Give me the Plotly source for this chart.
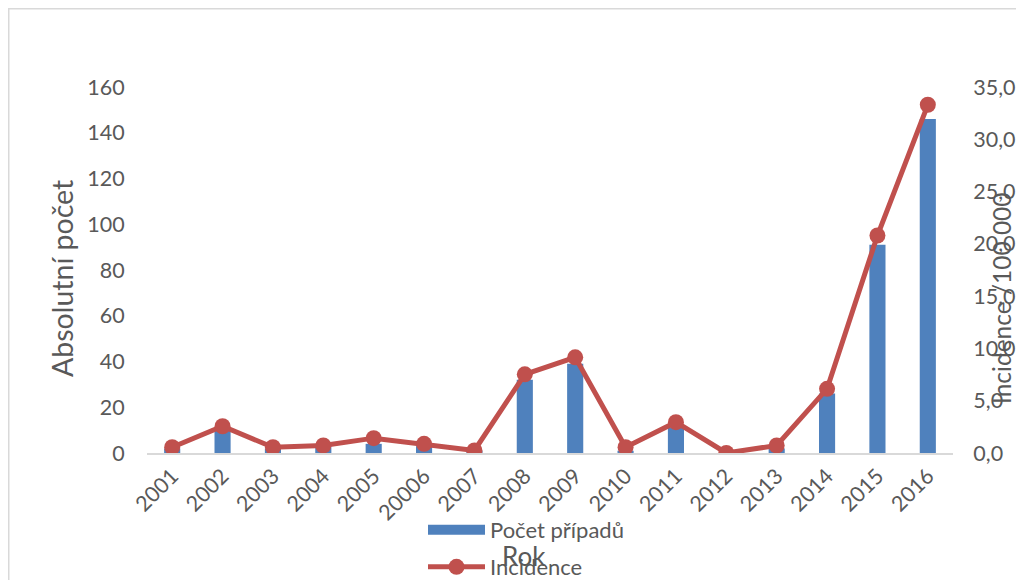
import plotly.graph_objects as go

years = ["2001", "2002", "2003", "2004", "2005", "20006", "2007", "2008",
         "2009", "2010", "2011", "2012", "2013", "2014", "2015", "2016"]
pocet_pripadu = [2, 10, 2, 3, 4, 3, 1, 32, 39, 1, 11, 0, 2, 26, 91, 146]
incidence = [0.55, 2.56, 0.55, 0.72, 1.42, 0.88, 0.24, 7.52, 9.15, 0.55,
             2.95, 0.0, 0.72, 6.14, 20.8, 33.3]
left_ticks = [0, 20, 40, 60, 80, 100, 120, 140, 160]
right_ticks = [0, 5, 10, 15, 20, 25, 30, 35]

FONT = "Lato"
GREY = "#595959"
BLUE = "#4f81bd"
RED = "#c0504d"
OFF = 8  # page body margin
W, H = 1008, 572
L, R, T, B = 139, 63, 79, 127
pw, ph = W - L - R, H - T - B


def px_x(x):
    # screen x -> paper x
    return (x - OFF - L) / pw


def px_y(y):
    # screen y -> paper y
    return (H - B - (y - OFF)) / ph


fig = go.Figure()
fig.add_trace(go.Bar(
    x=years, y=pocet_pripadu, name="Počet případů",
    marker=dict(color=BLUE, line=dict(width=0)),
    yaxis="y", showlegend=False,
))
# legend-only entry giving the wide Excel-style bar swatch
fig.add_trace(go.Scatter(
    x=[None], y=[None], name="Počet případů", mode="lines",
    line=dict(color=BLUE, width=14), legend="legend", hoverinfo="skip",
))
fig.add_trace(go.Scatter(
    x=years, y=incidence, name="Incidence", mode="lines+markers",
    line=dict(color=RED, width=5),
    marker=dict(color=RED, size=16),
    legend="legend2", yaxis="y2",
))

TICKFONT = dict(size=21.5, color=GREY)
fig.update_layout(
    width=W, height=H,
    margin=dict(l=L, r=R, t=T, b=B, autoexpand=False),
    paper_bgcolor="white", plot_bgcolor="white",
    font=dict(family=FONT, size=21, color=GREY),
    separators=", ",
    bargap=0.68,
    showlegend=True,
    xaxis=dict(
        type="category", tickangle=-45, showgrid=False,
        showline=True, linecolor="#d9d9d9", linewidth=2,
        ticks="", tickfont=TICKFONT,
        range=[-0.5, len(years) - 0.5],
    ),
    yaxis=dict(
        range=[0, 160], tickvals=left_ticks, showgrid=False, zeroline=False,
        showline=False, ticks="outside", ticklen=17,
        tickcolor="rgba(0,0,0,0)", tickfont=TICKFONT,
    ),
    yaxis2=dict(
        range=[0, 35], tickvals=right_ticks, tickformat=".1f",
        overlaying="y", side="right", showgrid=False, zeroline=False,
        showline=False, ticks="outside", ticklen=15,
        tickcolor="rgba(0,0,0,0)", tickfont=TICKFONT,
    ),
    legend=dict(
        x=px_x(423), y=px_y(530), xanchor="left", yanchor="middle",
        font=dict(size=22, color=GREY), bgcolor="rgba(0,0,0,0)",
        itemwidth=57,
    ),
    legend2=dict(
        x=px_x(423), y=px_y(567), xanchor="left", yanchor="middle",
        font=dict(size=22, color=GREY), bgcolor="rgba(0,0,0,0)",
        itemwidth=57,
    ),
    annotations=[
        dict(text="Absolutní počet", x=px_x(62), y=px_y(279), xref="paper",
             yref="paper", showarrow=False, textangle=-90,
             xanchor="center", yanchor="middle",
             font=dict(size=28.5, color=GREY)),
        dict(text="Incidence /100 000", x=px_x(1001), y=px_y(298),
             xref="paper", yref="paper", showarrow=False, textangle=-90,
             xanchor="center", yanchor="middle",
             font=dict(size=24.5, color=GREY)),
        dict(text="Rok", x=px_x(524), y=px_y(556), xref="paper",
             yref="paper", showarrow=False,
             xanchor="center", yanchor="middle",
             font=dict(size=26, color=GREY)),
    ],
    shapes=[
        dict(type="rect", xref="paper", yref="paper",
             x0=(0.75 - L) / pw, y0=px_y(800), x1=px_x(1200),
             y1=(H - B - 0.75) / ph,
             line=dict(color="#d9d9d9", width=1.5), fillcolor="rgba(0,0,0,0)",
             layer="below"),
    ],
)

fig.write_html("out.html")
